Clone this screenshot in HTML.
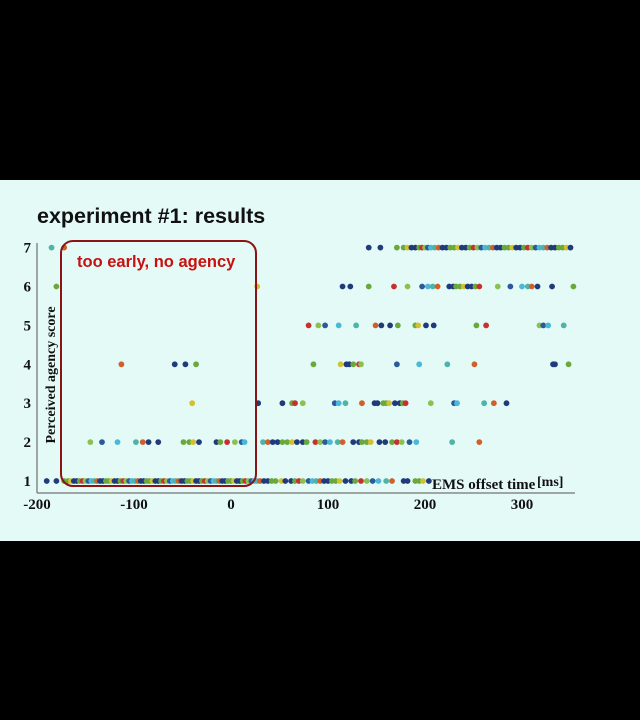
<!DOCTYPE html>
<html><head><meta charset="utf-8"><style>
html,body{margin:0;padding:0;background:#000;width:640px;height:720px;overflow:hidden}
#slide{position:absolute;left:0;top:180px;width:640px;height:361px;background:#e4faf6}
svg{position:absolute;left:0;top:0}
</style></head><body>
<div id="slide"></div>
<svg id="chart" width="640" height="720"></svg>
<script>
const yTicks=[1,2,3,4,5,6,7];
const xTicks=[-200,-100,0,100,200,300];
const s1=[-190,-180,-172,-168,-165,-162,-159,-156,-153,-150,-147,-144,-141,-138,-135,-132,-129,-126,-123,-120,-117,-114,-111,-108,-105,-102,-99,-96,-93,-90,-87,-84,-81,-78,-75,-72,-69,-66,-63,-60,-57,-54,-51,-48,-45,-42,-39,-36,-33,-30,-27,-24,-21,-18,-15,-12,-9,-6,-3,0,3,6,9,12,15,18,21,24,27,30,34,38,42,46,52,56,62,66,70,74,80,84,88,92,96,100,104,108,112,118,124,128,134,140,146,152,160,166,178,182,190,194,198,204];
const s2=[-145,-133,-117,-98,-91,-85,-75,-49,-43,-39,-33,-15,-11,-4,4,11,14,33,38,43,48,53,58,63,68,74,78,87,92,97,102,110,115,126,132,135,140,144,153,159,166,171,176,184,191,228,256];
const s3=[-40,28,53,63,66,74,107,111,118,135,148,151,157,160,163,169,174,177,180,206,230,233,261,271,284];
const s4=[-113,-58,-47,-36,85,113,119,122,126,132,134,171,194,223,251,332,334,348];
const s5=[80,90,97,111,129,149,155,164,172,190,193,201,209,253,263,318,322,327,343];
const s6=[-180,27,115,123,142,168,182,197,203,208,213,225,229,232,236,240,244,248,252,256,275,288,300,306,310,316,331,353];
const s7=[-185,-172,142,154,171,178,182,186,190,194,197,200,203,206,210,214,218,222,226,230,234,238,242,246,250,254,258,262,266,270,274,278,282,286,290,294,298,302,306,310,314,318,322,326,330,334,338,342,346,350];
const series=[s1,s2,s3,s4,s5,s6,s7];
const palette=['#1f3b7a','#6aa83c','#1f3b7a','#8cc152','#4fb3a8','#1f3b7a','#d4c030','#6aa83c','#2a5a9a','#d0602a','#6aa83c','#1f3b7a','#c83030','#4ab8d8'];
const NS='http://www.w3.org/2000/svg';
const svg=document.getElementById('chart');
const X=v=>231+v*0.97;
const Y=s=>481-(s-1)*38.9;
function mk(t,a){const e=document.createElementNS(NS,t);for(const k in a)e.setAttribute(k,a[k]);svg.appendChild(e);return e;}
let t=mk('text',{x:37,y:223,'font-family':'Liberation Sans, sans-serif','font-weight':'bold','font-size':'21.5',fill:'#111'});t.textContent='experiment #1: results';


let ax=mk('line',{x1:37,y1:243,x2:37,y2:493,stroke:'#888','stroke-width':1.5});


ax=mk('line',{x1:37,y1:493,x2:575,y2:493,stroke:'#888','stroke-width':1.5});


yTicks.forEach(v=>{const e=mk('text',{x:31,y:Y(v)+5,'text-anchor':'end','font-family':'Liberation Serif, serif','font-weight':'bold','font-size':'15',fill:'#111'});e.textContent=v;

});
xTicks.forEach(v=>{const e=mk('text',{x:X(v),y:509,'text-anchor':'middle','font-family':'Liberation Serif, serif','font-weight':'bold','font-size':'15',fill:'#111'});e.textContent=v;

});
series.forEach((arr,li)=>{arr.forEach((v,i)=>{const c=mk('circle',{cx:X(v),cy:Y(li+1),r:2.9,fill:palette[(i*5+li*3)%palette.length]});

});});
let yt=mk('text',{x:0,y:0,transform:'translate(55,375) rotate(-90)','text-anchor':'middle','font-family':'Liberation Serif, serif','font-weight':'bold','font-size':'14',fill:'#111'});yt.textContent='Perceived agency score';


let xt=mk('text',{x:432,y:489,'font-family':'Liberation Serif, serif','font-weight':'bold','font-size':'15',fill:'#111'});xt.textContent='EMS offset time';


let xu=mk('text',{x:537,y:486,'font-family':'Liberation Serif, serif','font-weight':'bold','font-size':'14',fill:'#111'});xu.textContent='[ms]';


let box=mk('rect',{x:61,y:241,width:195,height:245,rx:12,fill:'none',stroke:'#8a1414','stroke-width':2});


let bl=mk('text',{x:77,y:267,'font-family':'Liberation Sans, sans-serif','font-weight':'bold','font-size':'16.5',fill:'#c81010'});bl.textContent='too early, no agency';


</script>
</body></html>
